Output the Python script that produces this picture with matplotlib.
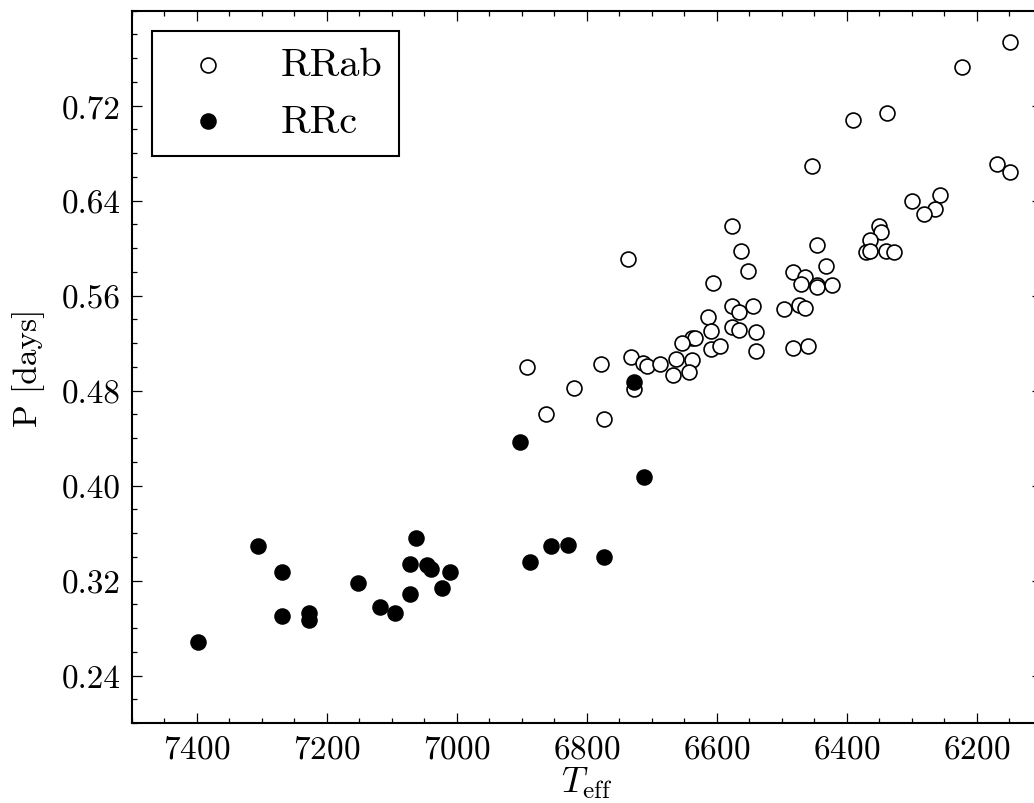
import matplotlib
matplotlib.use("Agg")
import matplotlib.pyplot as plt
from matplotlib.ticker import MultipleLocator, FixedLocator, FormatStrFormatter

# RRab stars (open circles): effective temperature [K], period [days]
rrab_teff = [6149, 6223, 6391, 6338, 6454, 6169, 6149, 6299, 6257, 6265,
             6281, 6351, 6347, 6364, 6370, 6364, 6339, 6328, 6576, 6562,
             6552, 6445, 6432, 6737, 6605, 6483, 6464, 6470, 6446, 6445,
             6423, 6576, 6565, 6544, 6497, 6474, 6464, 6614, 6576, 6565,
             6539, 6609, 6638, 6634, 6653, 6609, 6595, 6539, 6482, 6459,
             6732, 6713, 6708, 6687, 6663, 6638, 6668, 6643, 6892, 6778,
             6819, 6727, 6862, 6774]
rrab_period = [0.774, 0.753, 0.708, 0.714, 0.669, 0.671, 0.664, 0.640, 0.645, 0.633,
               0.629, 0.619, 0.614, 0.607, 0.597, 0.598, 0.598, 0.597, 0.619, 0.598,
               0.581, 0.603, 0.585, 0.591, 0.571, 0.580, 0.576, 0.570, 0.569, 0.567,
               0.569, 0.551, 0.546, 0.551, 0.549, 0.552, 0.550, 0.542, 0.534, 0.531,
               0.529, 0.530, 0.524, 0.524, 0.520, 0.515, 0.518, 0.513, 0.516, 0.518,
               0.508, 0.503, 0.501, 0.502, 0.507, 0.506, 0.493, 0.496, 0.500, 0.502,
               0.482, 0.481, 0.460, 0.456]

# RRc stars (filled circles)
rrc_teff = [7398, 7305, 7269, 7269, 7228, 7228, 7152, 7118, 7095, 7072,
            7072, 7062, 7045, 7039, 7022, 7011, 6887, 6855, 6829, 6773,
            6727, 6903, 6712]
rrc_period = [0.268, 0.349, 0.327, 0.290, 0.293, 0.287, 0.318, 0.298, 0.293, 0.334,
              0.309, 0.356, 0.333, 0.330, 0.314, 0.327, 0.336, 0.349, 0.350, 0.340,
              0.487, 0.437, 0.407]

period_ticks = [0.24, 0.32, 0.40, 0.48, 0.56, 0.64, 0.72]

plt.rcParams["font.family"] = "serif"
plt.rcParams["font.serif"] = ["cmr10"]
plt.rcParams["mathtext.fontset"] = "cm"
plt.rcParams["axes.formatter.use_mathtext"] = True

fig = plt.figure(figsize=(10.34, 8.04), dpi=100)
# axes runs slightly past the right edge of the figure, as in the original
ax = fig.add_axes([0.1274, 0.0995, 0.8801, 0.8859])

ax.scatter(rrab_teff, rrab_period, s=115, facecolors="white",
           edgecolors="black", linewidths=1.2, label="RRab", zorder=2)
ax.scatter(rrc_teff, rrc_period, s=115, facecolors="black",
           edgecolors="black", linewidths=1.2, label="RRc", zorder=3)

ax.set_xlim(7500, 6100)
ax.set_ylim(0.2, 0.8)

ax.xaxis.set_major_locator(MultipleLocator(200))
ax.xaxis.set_minor_locator(MultipleLocator(50))
ax.yaxis.set_major_locator(FixedLocator(period_ticks))
ax.yaxis.set_minor_locator(MultipleLocator(0.02))
ax.yaxis.set_major_formatter(FormatStrFormatter("%.2f"))

ax.tick_params(which="both", direction="in", top=True, right=True,
               labelsize=24, pad=8)
ax.tick_params(which="major", length=7.5, width=0.9)
ax.tick_params(which="minor", length=3.8, width=0.9)
for sp in ax.spines.values():
    sp.set_linewidth(1.5)

ax.set_xlabel(r"$T_{\rm eff}$", fontsize=26, labelpad=1)
ax.set_ylabel("P [days]", fontsize=24, labelpad=12)

leg = ax.legend(loc="upper left", fontsize=29, scatterpoints=1,
                fancybox=False, framealpha=1, edgecolor="black",
                borderaxespad=0.5)
leg.get_frame().set_linewidth(1.5)

fig.savefig("out.png", dpi=100)
